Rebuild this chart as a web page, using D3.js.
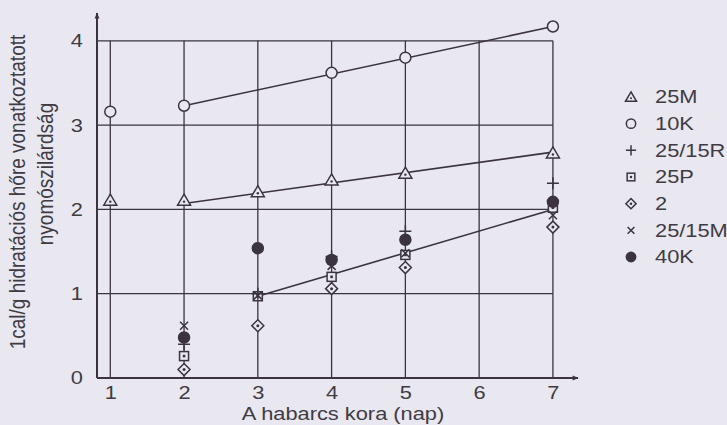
<!DOCTYPE html>
<html>
<head>
<meta charset="utf-8">
<script src="https://cdn.jsdelivr.net/npm/d3@7"></script>
<style>
  html, body { margin: 0; padding: 0; background: #e9e7ef; }
  svg { display: block; font-family: "Liberation Sans", Arial, sans-serif; }
</style>
</head>
<body>
<div id="chart"></div>
<script>
const days = [1, 2, 3, 4, 5, 6, 7];
const yTicks = [0, 1, 2, 3, 4];
const seriesNames = ['25M', '10K', '25/15R', '25P', '2', '25/15M', '40K'];

// [day, value] pairs
const s25M = [[1, 2.11], [2, 2.11], [3, 2.21], [4, 2.35], [5, 2.43], [7, 2.67]];
const s10K = [[1, 3.16], [2, 3.23], [4, 3.62], [5, 3.80], [7, 4.17]];
const s2515R = [[2, 0.40], [3, 1.00], [4, 1.44], [5, 1.74], [7, 2.31]];
const s25P = [[2, 0.26], [3, 0.97], [4, 1.20], [5, 1.46], [7, 2.02]];
const s2 = [[2, 0.10], [3, 0.62], [4, 1.06], [5, 1.31], [7, 1.79]];
const s2515M = [[2, 0.62], [3, 0.98], [4, 1.33], [5, 1.48], [7, 1.93]];
const s40K = [[2, 0.48], [3, 1.54], [4, 1.40], [5, 1.64], [7, 2.09]];

// straight trend lines drawn in the figure
const trend10K = [[2, 3.23], [7, 4.17]];
const trend25M = [[2, 2.07], [7, 2.68]];
const trendLow = [[3, 0.97], [7, 2.00]];

const width = 727;
const height = 425;
const bg = '#e9e7ef';
const ink = '#3b3440';
const textInk = '#3f3b43';
const stretch = 1.18; // the scan is wider than tall

const svg = d3.select('#chart')
  .append('svg')
  .attr('width', width)
  .attr('height', height);

svg.append('rect')
  .attr('width', width)
  .attr('height', height)
  .attr('fill', bg);

const x = d3.scaleLinear()
  .domain([0.82, 7.34])
  .range([97, 578]);

const y = d3.scaleLinear()
  .domain([0, 4.33])
  .range([378, 13]);

const yTop = 4;

// grid
const grid = svg.append('g')
  .attr('stroke', ink)
  .attr('stroke-width', 1.3)
  .attr('fill', 'none');

grid.selectAll('line.h')
  .data(yTicks.filter(d => d > 0))
  .join('line')
  .attr('class', 'h')
  .attr('x1', x.range()[0])
  .attr('x2', x(7))
  .attr('y1', d => y(d))
  .attr('y2', d => y(d));

grid.selectAll('line.v')
  .data(days)
  .join('line')
  .attr('class', 'v')
  .attr('x1', d => x(d))
  .attr('x2', d => x(d))
  .attr('y1', y(0))
  .attr('y2', y(yTop));

// trend lines
const line = d3.line().x(d => x(d[0])).y(d => y(d[1]));
svg.append('g')
  .selectAll('path')
  .data([trend10K, trend25M, trendLow])
  .join('path')
  .attr('d', line)
  .attr('fill', 'none')
  .attr('stroke', ink)
  .attr('stroke-width', 1.6);

// axes with arrows
const defs = svg.append('defs');
defs.append('marker')
  .attr('id', 'arrow')
  .attr('viewBox', '0 -5 10 10')
  .attr('refX', 9)
  .attr('refY', 0)
  .attr('markerWidth', 7)
  .attr('markerHeight', 6)
  .attr('markerUnits', 'userSpaceOnUse')
  .attr('orient', 'auto')
  .append('path')
  .attr('d', 'M0,-4L10,0L0,4Z')
  .attr('fill', ink);

svg.append('line')
  .attr('x1', x.range()[0]).attr('x2', x.range()[1])
  .attr('y1', y(0)).attr('y2', y(0))
  .attr('stroke', ink).attr('stroke-width', 2)
  .attr('marker-end', 'url(#arrow)');

svg.append('line')
  .attr('x1', x.range()[0]).attr('x2', x.range()[0])
  .attr('y1', y(0)).attr('y2', y.range()[1])
  .attr('stroke', ink).attr('stroke-width', 2)
  .attr('marker-end', 'url(#arrow)');

const xAxis = svg.append('g')
  .attr('transform', `translate(0,${y(0)})`)
  .call(d3.axisBottom(x).tickValues(days).tickFormat(d3.format('d')).tickSize(0).tickPadding(8));
xAxis.select('.domain').remove();

const yAxis = svg.append('g')
  .attr('transform', `translate(${x.range()[0]},0)`)
  .call(d3.axisLeft(y).tickValues(yTicks).tickFormat(d3.format('d')).tickSize(0).tickPadding(12));
yAxis.select('.domain').remove();

svg.selectAll('.tick text')
  .attr('font-size', 18.5)
  .attr('font-family', '"Liberation Sans", Arial, sans-serif')
  .attr('fill', textInk)
  .attr('transform', `scale(${stretch},1)`);

// axis titles
svg.append('text')
  .attr('transform', `translate(343,414) scale(${stretch},1)`)
  .attr('text-anchor', 'middle')
  .attr('dominant-baseline', 'central')
  .attr('font-size', 18.5)
  .attr('fill', textInk)
  .text('A habarcs kora (nap)');

svg.append('text')
  .attr('transform', `translate(17,192) scale(${stretch},1) rotate(-90)`)
  .attr('text-anchor', 'middle')
  .attr('dominant-baseline', 'central')
  .attr('font-size', 19)
  .attr('fill', textInk)
  .text('1cal/g hidratációs hőre vonatkoztatott');

svg.append('text')
  .attr('transform', `translate(45,174) scale(${stretch},1) rotate(-90)`)
  .attr('text-anchor', 'middle')
  .attr('dominant-baseline', 'central')
  .attr('font-size', 19)
  .attr('fill', textInk)
  .text('nyomószilárdság');

// marker drawing
function drawMarker(g, name, s) {
  const k = s || 1;
  g.attr('stroke', ink).attr('stroke-width', 1.5);
  if (name === '25M') {
    g.append('path').attr('d', `M0,${-6 * k}L${6.5 * k},${5 * k}L${-6.5 * k},${5 * k}Z`).attr('fill', bg);
    g.append('circle').attr('cy', 1.5 * k).attr('r', 1.2 * k).attr('fill', ink).attr('stroke', 'none');
  } else if (name === '10K') {
    g.append('circle').attr('r', 5.5 * k).attr('fill', bg);
  } else if (name === '25/15R') {
    g.append('path').attr('d', `M${-6 * k},0H${6 * k}M0,${-6 * k}V${6 * k}`).attr('fill', 'none');
  } else if (name === '25P') {
    g.append('rect').attr('x', -4.5 * k).attr('y', -4.5 * k).attr('width', 9 * k).attr('height', 9 * k).attr('fill', bg);
    g.append('rect').attr('x', -1.3 * k).attr('y', -1.3 * k).attr('width', 2.6 * k).attr('height', 2.6 * k).attr('fill', ink).attr('stroke', 'none');
  } else if (name === '2') {
    g.append('path').attr('d', `M0,${-6 * k}L${6 * k},0L0,${6 * k}L${-6 * k},0Z`).attr('fill', bg);
    g.append('circle').attr('r', 1.5 * k).attr('fill', ink).attr('stroke', 'none');
  } else if (name === '25/15M') {
    g.append('path').attr('d', `M${-4 * k},${-4 * k}L${4 * k},${4 * k}M${-4 * k},${4 * k}L${4 * k},${-4 * k}`).attr('fill', 'none');
  } else if (name === '40K') {
    g.append('circle').attr('r', 5.5 * k).attr('fill', ink);
  }
}

const seriesData = [s25M, s10K, s2515R, s25P, s2, s2515M, s40K];
const drawOrder = [1, 0, 4, 3, 6, 5, 2];

drawOrder.forEach(i => {
  const name = seriesNames[i];
  svg.append('g')
    .selectAll('g')
    .data(seriesData[i])
    .join('g')
    .attr('transform', d => `translate(${x(d[0])},${y(d[1])})`)
    .each(function () { drawMarker(d3.select(this), name); });
});

// legend
const legend = svg.append('g');
const legendY = d3.scalePoint()
  .domain(seriesNames)
  .range([97, 257]);

seriesNames.forEach(name => {
  const row = legend.append('g')
    .attr('transform', `translate(631,${legendY(name)})`);
  drawMarker(row.append('g'), name, 0.85);
  row.append('text')
    .attr('transform', `translate(24,0) scale(${stretch},1)`)
    .attr('dominant-baseline', 'central')
    .attr('font-size', 18.5)
    .attr('fill', textInk)
    .text(name);
});
</script>
</body>
</html>
